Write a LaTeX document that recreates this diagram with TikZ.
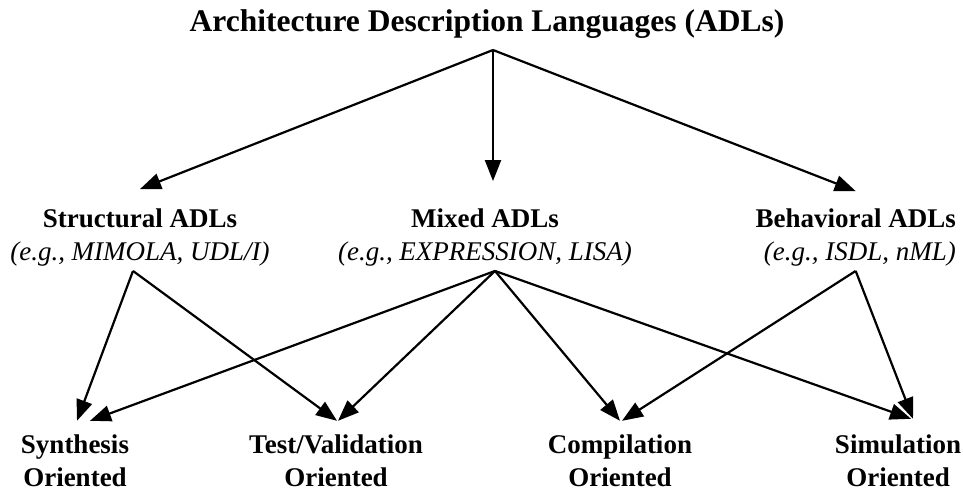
\documentclass[tikz,border=0pt]{standalone}
\usepackage{fontspec}
\setmainfont{Liberation Serif}
\usetikzlibrary{arrows.meta}
\begin{document}
\begin{tikzpicture}[x=1pt,y=-1pt,
  lbl/.style={font=\fontsize{27}{33}\selectfont\bfseries, align=center, inner sep=0pt},
  ttl/.style={font=\fontsize{31.5}{36}\selectfont\bfseries, inner sep=0pt},
  arr/.style={line width=2.2pt, -{Triangle[length=21pt,width=16pt]}}]
\useasboundingbox (0,0) rectangle (963,491);
\node[ttl] (title) at (487,24) {Architecture Description Languages (ADLs)};
\node[lbl] (struct) at (140,237) {Structural ADLs\\\normalfont\itshape(e.g., MIMOLA, UDL/I)};
\node[lbl] (mixed) at (485,237) {Mixed ADLs\\\normalfont\itshape(e.g., EXPRESSION, LISA)};
\node[lbl, align=right, anchor=east] (behav) at (956,237) {Behavioral ADLs\\\normalfont\itshape(e.g., ISDL, nML)};
\node[lbl] (synth) at (75,461) {Synthesis\\Oriented};
\node[lbl] (test) at (336,461) {Test/Validation\\Oriented};
\node[lbl] (comp) at (620,461) {Compilation\\Oriented};
\node[lbl] (sim) at (898,461) {Simulation\\Oriented};
% origins
\coordinate (t-out) at (493,50);
\coordinate (s-out) at ([xshift=-7pt,yshift=-5pt]struct.south);
\coordinate (m-out) at ([xshift=10pt,yshift=-5pt]mixed.south);
\coordinate (b-out) at ([yshift=-5pt]behav.south);
% top arrows
\draw[arr] (t-out) -- ([yshift=19pt]struct.north);
\draw[arr] (t-out) -- ([xshift=8pt,yshift=27pt]mixed.north);
\draw[arr] (t-out) -- ([yshift=17pt]behav.north);
% bottom arrows
\draw[arr] (s-out) -- ([xshift=2pt,yshift=14pt]synth.north);
\draw[arr] (s-out) -- ([xshift=1pt,yshift=14pt]test.north);
\draw[arr] (m-out) -- ([xshift=15pt,yshift=14pt]synth.north);
\draw[arr] (m-out) -- ([xshift=2pt,yshift=14pt]test.north);
\draw[arr] (m-out) -- ([xshift=0pt,yshift=14pt]comp.north);
\draw[arr] (m-out) -- ([xshift=13pt,yshift=16pt]sim.north);
\draw[arr] (b-out) -- ([xshift=2pt,yshift=14pt]comp.north);
\draw[arr] (b-out) -- ([xshift=15pt,yshift=16pt]sim.north);
\end{tikzpicture}
\end{document}
